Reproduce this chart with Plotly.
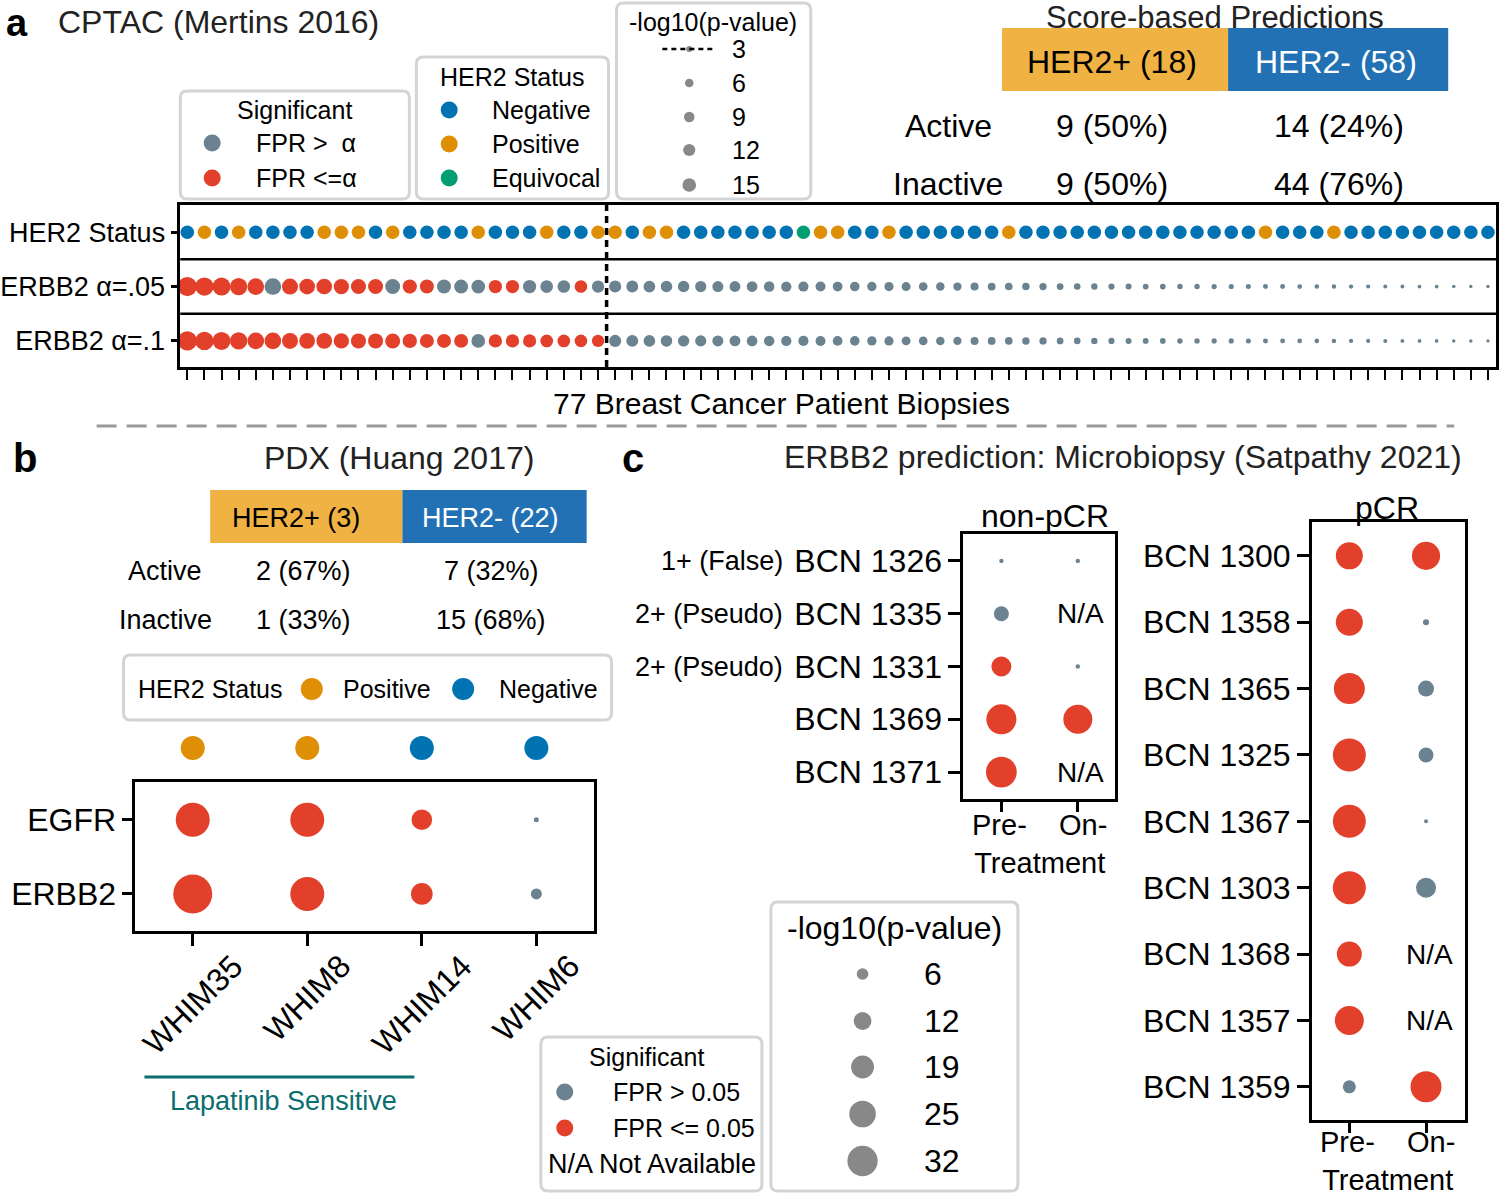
import numpy as np
import plotly.graph_objects as go

W, H = 1499, 1199
FONT = "Liberation Sans"

# ---------------- data ----------------
# Panel a: CPTAC (Mertins 2016) - 77 biopsies ordered by ERBB2 score
her2_status = ["N", "P", "N", "P", "N", "N", "N", "N", "P", "P",
               "P", "N", "P", "N", "N", "N", "N", "P", "N", "N",
               "N", "P", "N", "N", "P", "P", "N", "P", "P", "N",
               "N", "N", "N", "N", "N", "N", "E", "P", "P", "N",
               "N", "P", "N", "N", "N", "N", "N", "N", "P", "N",
               "N", "N", "N", "N", "N", "N", "N", "N", "N", "N",
               "N", "N", "N", "P", "N", "N", "N", "P", "N", "N",
               "N", "N", "N", "N", "N", "N", "N"]
neglogp_a = [30.1, 27.0, 26.1, 24.2, 22.5, 22.4, 20.7, 19.9, 19.8, 18.9,
             18.3, 18.2, 18.0, 16.5, 15.8, 15.7, 15.6, 15.1, 14.3, 14.2,
             14.1, 13.0, 12.9, 12.8, 12.2, 11.8, 11.4, 11.0, 10.7, 10.4,
             10.1, 9.8, 9.5, 9.2, 8.9, 8.6, 8.3, 8.0, 7.7, 7.4,
             7.1, 6.8, 6.4, 6.1, 5.8, 5.5, 5.2, 4.9, 4.7, 4.5,
             4.3, 3.7, 3.5, 3.3, 3.1, 2.9, 2.7, 2.6, 2.4, 2.3,
             2.2, 2.1, 2.05, 2.0, 1.9, 1.8, 1.7, 1.6, 1.5, 1.4,
             1.3, 1.2, 1.15, 1.1, 1.0, 0.95, 0.9]
sig_05 = [1, 1, 1, 1, 1, 0, 1, 1, 1, 1,
          1, 1, 0, 1, 1, 0, 0, 0, 1, 1,
          0, 0, 0, 1, 0, 0, 0, 0, 0, 0,
          0, 0, 0, 0, 0, 0, 0, 0, 0, 0,
          0, 0, 0, 0, 0, 0, 0, 0, 0, 0,
          0, 0, 0, 0, 0, 0, 0, 0, 0, 0,
          0, 0, 0, 0, 0, 0, 0, 0, 0, 0,
          0, 0, 0, 0, 0, 0, 0]
sig_10 = [1, 1, 1, 1, 1, 1, 1, 1, 1, 1,
          1, 1, 1, 1, 1, 1, 1, 0, 1, 1,
          1, 1, 1, 1, 1, 0, 0, 0, 0, 0,
          0, 0, 0, 0, 0, 0, 0, 0, 0, 0,
          0, 0, 0, 0, 0, 0, 0, 0, 0, 0,
          0, 0, 0, 0, 0, 0, 0, 0, 0, 0,
          0, 0, 0, 0, 0, 0, 0, 0, 0, 0,
          0, 0, 0, 0, 0, 0, 0]
rows_a = ["ERBB2 α=.1", "ERBB2 α=.05", "HER2 Status"]  # bottom -> top
active_cut = 24.5  # dashed line between active / inactive
score_cols = ["HER2+ (18)", "HER2- (58)"]
score_rows = ["Active", "Inactive"]
score_vals = [["9 (50%)", "14 (24%)"], ["9 (50%)", "44 (76%)"]]
size_leg_a = [3, 6, 9, 12, 15]

# Panel b: PDX (Huang 2017)
pdx_models = ["WHIM35", "WHIM8", "WHIM14", "WHIM6"]
pdx_status = ["P", "P", "N", "N"]
pdx_genes = ["ERBB2", "EGFR"]  # bottom -> top
pdx_neglogp = {"EGFR": [40.0, 40.0, 15.6, 2.3], "ERBB2": [52.0, 40.0, 17.1, 5.5]}
pdx_sig = {"EGFR": [1, 1, 1, 0], "ERBB2": [1, 1, 1, 0]}
pdx_cols = ["HER2+ (3)", "HER2- (22)"]
pdx_vals = [["2 (67%)", "7 (32%)"], ["1 (33%)", "15 (68%)"]]

# Panel c: Microbiopsy (Satpathy 2021)
timepoints = ["Pre-", "On-"]
npcr_samples = ["BCN 1326", "BCN 1335", "BCN 1331", "BCN 1369", "BCN 1371"]
npcr_ihc = ["1+ (False)", "2+ (Pseudo)", "2+ (Pseudo)", "", ""]
npcr_pre = [2.1, 9.0, 14.8, 31.5, 33.0]
npcr_on = [2.1, None, 2.1, 29.5, None]
npcr_pre_sig = [0, 0, 1, 1, 1]
npcr_on_sig = [0, None, 0, 1, None]
pcr_samples = ["BCN 1300", "BCN 1358", "BCN 1365", "BCN 1325", "BCN 1367",
               "BCN 1303", "BCN 1368", "BCN 1357", "BCN 1359"]
pcr_pre = [25.8, 25.8, 33.5, 37.8, 37.8, 37.8, 22.3, 29.5, 7.1]
pcr_on = [27.9, 2.7, 10.0, 9.0, 2.0, 14.8, None, None, 33.5]
pcr_pre_sig = [1, 1, 1, 1, 1, 1, 1, 1, 0]
pcr_on_sig = [1, 0, 0, 0, 0, 0, None, None, 1]
size_leg_c = [6, 12, 19, 25, 32]

# ---------------- style ----------------
RED = "#E3402B"
GREY = "#6B8290"
NEG = "#0173B2"
POS = "#DE8F05"
EQU = "#029E73"
HDR_POS = "#F0B243"
HDR_NEG = "#2271B5"
TEAL = "#0B6E6E"
LEGGREY = "#888888"
BOX = "#D4D4D4"
status_color = {"N": NEG, "P": POS, "E": EQU}


def size_a(v):
    return float(3.52 * np.sqrt(v))


def size_bc(v):
    return float(np.sqrt(max(16 + 30 * (v - 2), 9)))


def P(x, y):
    return x / W, 1 - y / H


annotations = []
shapes = []


def text(x, y, s, size, anchor="center", color="black", bold=False, angle=None, **kw):
    xp, yp = P(x, y)
    a = dict(x=xp, y=yp, xref="paper", yref="paper", text=(f"<b>{s}</b>" if bold else s),
             showarrow=False, xanchor=anchor, yanchor="middle",
             font=dict(size=size, color=color, family=FONT))
    if angle is not None:
        a["textangle"] = angle
    a.update(kw)
    annotations.append(a)


def rbox(x0, y0, x1, y1, r=7, color=BOX, width=3):
    def p(x, y):
        X, Y = P(x, y)
        return f"{X:.5f},{Y:.5f}"
    path = (f"M{p(x0 + r, y0)} L{p(x1 - r, y0)} Q{p(x1, y0)} {p(x1, y0 + r)} "
            f"L{p(x1, y1 - r)} Q{p(x1, y1)} {p(x1 - r, y1)} L{p(x0 + r, y1)} "
            f"Q{p(x0, y1)} {p(x0, y1 - r)} L{p(x0, y0 + r)} Q{p(x0, y0)} {p(x0 + r, y0)} Z")
    shapes.append(dict(type="path", xref="paper", yref="paper", path=path,
                       line=dict(color=color, width=width), fillcolor="rgba(0,0,0,0)", layer="below"))


def rect(x0, y0, x1, y1, fill):
    X0, Y0 = P(x0, y0)
    X1, Y1 = P(x1, y1)
    shapes.append(dict(type="rect", xref="paper", yref="paper", x0=X0, y0=Y1, x1=X1, y1=Y0,
                       fillcolor=fill, line=dict(width=0), layer="below"))


def hline(x0, x1, y, color, width, dash="solid"):
    X0, Y = P(x0, y)
    X1, _ = P(x1, y)
    shapes.append(dict(type="line", xref="paper", yref="paper", x0=X0, x1=X1, y0=Y, y1=Y,
                       line=dict(color=color, width=width, dash=dash)))


fig = go.Figure()


def dots(x, y, colors, sizes, xa, ya):
    fig.add_trace(go.Scatter(x=x, y=y, mode="markers", xaxis=xa, yaxis=ya, cliponaxis=False,
                             hoverinfo="skip",
                             marker=dict(color=colors, size=sizes, line=dict(width=0), opacity=1)))


# ---------------- panel a ----------------
idx = list(range(len(her2_status)))
y_status = rows_a.index("HER2 Status")
y_05 = rows_a.index("ERBB2 α=.05")
y_10 = rows_a.index("ERBB2 α=.1")
dots(idx, [y_status] * len(idx), [status_color[s] for s in her2_status], 13.5, "x", "y")
dots(idx, [y_05] * len(idx), [RED if s else GREY for s in sig_05], [size_a(v) for v in neglogp_a], "x", "y")
dots(idx, [y_10] * len(idx), [RED if s else GREY for s in sig_10], [size_a(v) for v in neglogp_a], "x", "y")

for yb in (0.5, 1.5):
    shapes.append(dict(type="line", xref="x domain", yref="y", x0=0, x1=1, y0=yb, y1=yb,
                       line=dict(color="black", width=2.5)))
shapes.append(dict(type="line", xref="x", yref="y domain", x0=active_cut, x1=active_cut, y0=0, y1=1,
                   line=dict(color="black", width=3.5, dash="7px,5px")))

text(12, 23, "a", 38, bold=True)
text(51, 22, "CPTAC (Mertins 2016)", 32, anchor="left", color="#222222")
text(780, 403, "77 Breast Cancer Patient Biopsies", 30)

# legends panel a
rbox(176, 91, 406, 199)
text(291, 110, "Significant", 25)
legx, legy, legc, legs = [], [], [], []
for yy, c, lab in [(143, GREY, "FPR >  α"), (178, RED, "FPR <=α")]:
    legx.append(208); legy.append(yy); legc.append(c); legs.append(17)
    text(250, yy, lab, 25, anchor="left")
rbox(413, 57, 606, 199)
text(510, 77, "HER2 Status", 25)
for yy, k, lab in [(110, "N", "Negative"), (144, "P", "Positive"), (178, "E", "Equivocal")]:
    legx.append(446); legy.append(yy); legc.append(status_color[k]); legs.append(17)
    text(487, yy, lab, 25, anchor="left")
rbox(614, 3, 809, 199)
text(711, 22, "-log10(p-value)", 25)
hline(660, 714, 49, "black", 2.5, dash="5px,4px")
for yy, v in zip([49, 83, 117, 150, 185], size_leg_a):
    legx.append(687); legy.append(yy); legc.append(LEGGREY); legs.append(size_a(v))
    text(728, yy, str(v), 25, anchor="left")

# score table panel a
text(1215, 18, "Score-based Predictions", 31, color="#222222")
rect(1001, 28, 1228, 91, HDR_POS)
rect(1228, 28, 1449, 91, HDR_NEG)
text(1111, 62, score_cols[0], 32)
text(1336, 62, score_cols[1], 32, color="white")
for yy, rlab, vals in zip([126, 184], score_rows, score_vals):
    text(947, yy, rlab, 32)
    text(1111, yy, vals[0], 32)
    text(1339, yy, vals[1], 32)

# separator
hline(92, 1455, 426, "#999999", 3, dash="20px,10px")

# ---------------- panel b ----------------
pidx = list(range(len(pdx_models)))
for g in pdx_genes:
    yg = pdx_genes.index(g)
    dots(pidx, [yg] * len(pidx), [RED if s else GREY for s in pdx_sig[g]],
         [size_bc(v) for v in pdx_neglogp[g]], "x2", "y2")
dots(pidx, [0] * len(pidx), [status_color[s] for s in pdx_status], 24, "x3", "y3")

text(20, 458, "b", 40, bold=True)
text(396, 458, "PDX (Huang 2017)", 32, color="#222222")
rect(206, 490, 399, 543, HDR_POS)
rect(399, 490, 584, 543, HDR_NEG)
text(292, 518, pdx_cols[0], 27)
text(487, 518, pdx_cols[1], 27, color="white")
for yy, rlab, vals in zip([571, 620], score_rows, pdx_vals):
    text(161, yy, rlab, 27)
    text(300, yy, vals[0], 27)
    text(488, yy, vals[1], 27)
rbox(119, 655, 609, 720)
text(132, 689, "HER2 Status", 25, anchor="left")
legx += [308, 460]; legy += [689, 689]; legc += [POS, NEG]; legs += [22, 22]
text(337, 689, "Positive", 25, anchor="left")
text(494, 689, "Negative", 25, anchor="left")

for i, m in enumerate(pdx_models):
    cy = 952 + (0.62 * 32 * len(m) + 32) / 2.83
    annotations.append(dict(x=i, y=1 - cy / H, xref="x2", yref="paper", text=m, showarrow=False,
                            textangle=-45, xanchor="center", yanchor="middle",
                            font=dict(size=32, family=FONT, color="black")))
hline(140, 411, 1077, TEAL, 3)
text(280, 1101, "Lapatinib Sensitive", 27, color=TEAL)

# ---------------- panel c ----------------
text(631, 458, "c", 40, bold=True)
text(1122, 457, "ERBB2 prediction: Microbiopsy (Satpathy 2021)", 32, color="#222222")


def panel_c(samples, pre, on, pre_sig, on_sig, xa, ya):
    n = len(samples)
    ys = [n - 1 - i for i in range(n)]
    for col, vals, sig in [(0, pre, pre_sig), (1, on, on_sig)]:
        xs, yv, cs, ss = [], [], [], []
        for yy, v, s in zip(ys, vals, sig):
            if v is None:
                annotations.append(dict(x=col, y=yy, xref=xa, yref=ya, text="N/A", showarrow=False,
                                        xshift=3, xanchor="center", yanchor="middle",
                                        font=dict(size=28, family=FONT, color="black")))
                continue
            xs.append(col); yv.append(yy); cs.append(RED if s else GREY); ss.append(size_bc(v))
        dots(xs, yv, cs, ss, xa, ya)
    return ys


ys_n = panel_c(npcr_samples, npcr_pre, npcr_on, npcr_pre_sig, npcr_on_sig, "x4", "y4")
for yy, lab in zip(ys_n, npcr_ihc):
    if lab:
        annotations.append(dict(x=783 / W, y=yy, xref="paper", yref="y4", text=lab, showarrow=False,
                                xanchor="right", yanchor="middle",
                                font=dict(size=27, family=FONT, color="black")))
ys_p = panel_c(pcr_samples, pcr_pre, pcr_on, pcr_pre_sig, pcr_on_sig, "x5", "y5")

text(1044, 516, "non-pCR", 32)
text(1388, 508, "pCR", 32)
xlab_c = "&nbsp;&nbsp;&nbsp;&nbsp;".join(timepoints) + "<br>Treatment"
for xa, ymid in [("x4", 844), ("x5", 1161)]:
    annotations.append(dict(x=0.5, y=1 - ymid / H, xref=xa, yref="paper", text=xlab_c,
                            showarrow=False, xanchor="center", yanchor="middle", align="center",
                            font=dict(size=29, family=FONT, color="black")))

# legends panel c
rbox(538, 1037, 760, 1191)
text(644, 1057, "Significant", 25)
legx += [562, 562]; legy += [1092, 1128]; legc += [GREY, RED]; legs += [17, 17]
text(608, 1092, "FPR > 0.05", 25, anchor="left")
text(608, 1128, "FPR <= 0.05", 25, anchor="left")
text(543, 1164, "N/A Not Available", 27, anchor="left")
rbox(769, 902, 1017, 1191)
text(893, 928, "-log10(p-value)", 32)
for yy, v in zip([974, 1021, 1067, 1114, 1161], size_leg_c):
    legx.append(861); legy.append(yy); legc.append(LEGGREY); legs.append(size_bc(v))
    text(921, yy, str(v), 32, anchor="left")

dots(legx, legy, legc, legs, "x6", "y6")

# ---------------- layout ----------------
def ax(domain, rng, **kw):
    d = dict(domain=domain, range=rng, showgrid=False, zeroline=False, showline=True, mirror=True,
             linecolor="black", linewidth=2.5, ticks="outside", tickcolor="black", tickwidth=2.5,
             fixedrange=True, tickfont=dict(family=FONT, color="black"))
    d.update(kw)
    return d


n_n = len(npcr_samples)
n_p = len(pcr_samples)
fig.update_layout(
    width=W, height=H, margin=dict(l=0, r=0, t=0, b=0), paper_bgcolor="white", plot_bgcolor="rgba(0,0,0,0)",
    showlegend=False, font=dict(family=FONT, color="black"),
    xaxis=ax([176 / W, 1497 / W], [-0.41, 76.47], tickvals=idx, showticklabels=False, ticklen=10,
             tickwidth=2, anchor="y"),
    yaxis=ax([1 - 367 / H, 1 - 205 / H], [-0.48, 2.5], tickvals=[0, 1, 2], ticktext=rows_a, ticklen=7,
             tickfont=dict(size=27, family=FONT, color="black"), anchor="x"),
    xaxis2=ax([131 / W, 591 / W], [-0.5, 3.5], tickvals=pidx, showticklabels=False, ticklen=12,
              linewidth=3, anchor="y2"),
    yaxis2=ax([1 - 931 / H, 1 - 782 / H], [-0.5, 1.51], tickvals=[0, 1], ticktext=pdx_genes, ticklen=10,
              linewidth=3, tickfont=dict(size=32, family=FONT, color="black"), anchor="x2"),
    xaxis3=dict(domain=[131 / W, 591 / W], range=[-0.5, 3.5], visible=False, anchor="y3", fixedrange=True),
    yaxis3=dict(domain=[1 - 770 / H, 1 - 726 / H], range=[-1, 1], visible=False, anchor="x3", fixedrange=True),
    xaxis4=ax([962 / W, 1114 / W], [-0.5, 1.48], tickvals=[0, 1], showticklabels=False, ticklen=10,
              anchor="y4"),
    yaxis4=ax([1 - 799 / H, 1 - 534 / H], [-0.51, n_n - 0.49], tickvals=ys_n, ticktext=npcr_samples,
              ticklen=12, tickfont=dict(size=32, family=FONT, color="black"), anchor="x4"),
    xaxis5=ax([1312 / W, 1466 / W], [-0.49, 1.51], tickvals=[0, 1], showticklabels=False, ticklen=10,
              anchor="y5"),
    yaxis5=ax([1 - 1120 / H, 1 - 522 / H], [-0.5, n_p - 0.49], tickvals=ys_p, ticktext=pcr_samples,
              ticklen=12, tickfont=dict(size=32, family=FONT, color="black"), anchor="x5"),
    xaxis6=dict(domain=[0, 1], range=[0, W], visible=False, anchor="y6", fixedrange=True),
    yaxis6=dict(domain=[0, 1], range=[H, 0], visible=False, anchor="x6", fixedrange=True),
    annotations=annotations, shapes=shapes,
)

fig.write_html("out.html", config={"displayModeBar": False},
               post_script="document.body.style.margin='0';document.body.style.overflow='hidden';")
